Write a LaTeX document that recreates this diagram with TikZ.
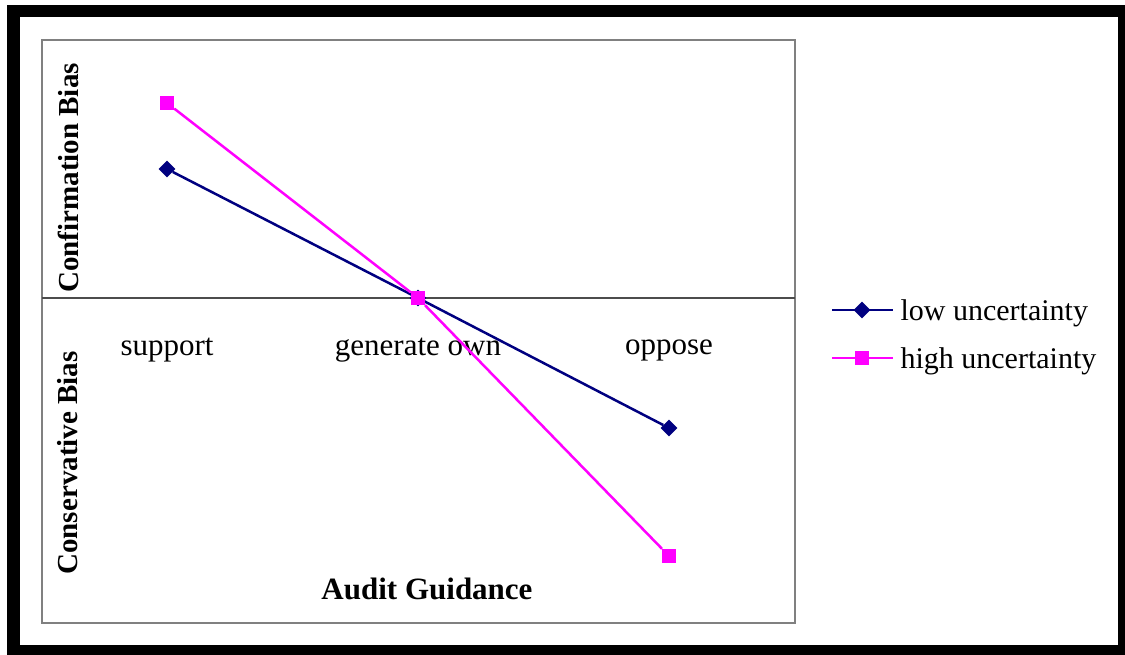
\documentclass[tikz,border=0pt]{standalone}
\usepackage{fontspec}
\setmainfont{Liberation Serif}
\usetikzlibrary{shapes.geometric}
\definecolor{navyline}{HTML}{000080}
\definecolor{pinkline}{HTML}{FF00FF}
\begin{document}
\begin{tikzpicture}[x=1pt,y=-1pt,
  lowline/.style={navyline,line width=2.5pt},
  highline/.style={pinkline,line width=2.5pt},
  lowmark/.style={diamond,fill=navyline,inner sep=0pt,minimum size=17pt},
  highmark/.style={rectangle,fill=pinkline,inner sep=0pt,minimum size=14pt},
  ticklabel/.style={font=\fontsize{31}{37}\selectfont},
  axislabel/.style={font=\fontsize{29}{35}\selectfont\bfseries},
  keylabel/.style={font=\fontsize{30}{36}\selectfont,anchor=west}]

  \useasboundingbox (0,0) rectangle (1125,655);
  \fill[white] (0,0) rectangle (1125,655);

  % Outer frame
  \fill[black] (7,5) rectangle (1125,655);
  \fill[white] (20,17) rectangle (1118,645);

  % Plot area and zero line
  \draw[line width=2pt,black!50] (42,40) rectangle (795,623);
  \draw[line width=1.5pt,black!70] (42,298) -- (795,298);

  % Axis labels
  \node[axislabel,rotate=90] (conf) at (68,178) {Confirmation Bias};
  \node[axislabel,rotate=90] (cons) at (68,463) {Conservative Bias};
  \node[font=\fontsize{31}{37}\selectfont\bfseries] (guide) at (427,589) {Audit Guidance};

  % Category labels
  \node[ticklabel] (sup) at (167,350) {support};
  \node[ticklabel] (gen) at (418,350) {generate own};
  \node[ticklabel] (opp) at (669,350) {oppose};

  % Low uncertainty
  \node[lowmark] (lows) at (167,169) {};
  \node[lowmark] (lowg) at (418,298) {};
  \node[lowmark] (lowo) at (669,428) {};
  \draw[lowline] (lows) -- (lowg) -- (lowo);

  % High uncertainty
  \node[highmark] (highs) at (167,103) {};
  \node[highmark] (highg) at (418,298) {};
  \node[highmark] (higho) at (669,556) {};
  \draw[highline] (highs) -- (highg) -- (higho);

  % Legend
  \coordinate (keylowa) at (832,310);
  \coordinate (keylowb) at (893,310);
  \draw[lowline] (keylowa) -- (keylowb);
  \node[lowmark] (keylow) at (862,310) {};
  \node[keylabel] (lowtext) at (897,313) {low uncertainty};

  \coordinate (keyhigha) at (832,358);
  \coordinate (keyhighb) at (893,358);
  \draw[highline] (keyhigha) -- (keyhighb);
  \node[highmark] (keyhigh) at (862,358) {};
  \node[keylabel] (hightext) at (897,361) {high uncertainty};

\end{tikzpicture}
\end{document}
